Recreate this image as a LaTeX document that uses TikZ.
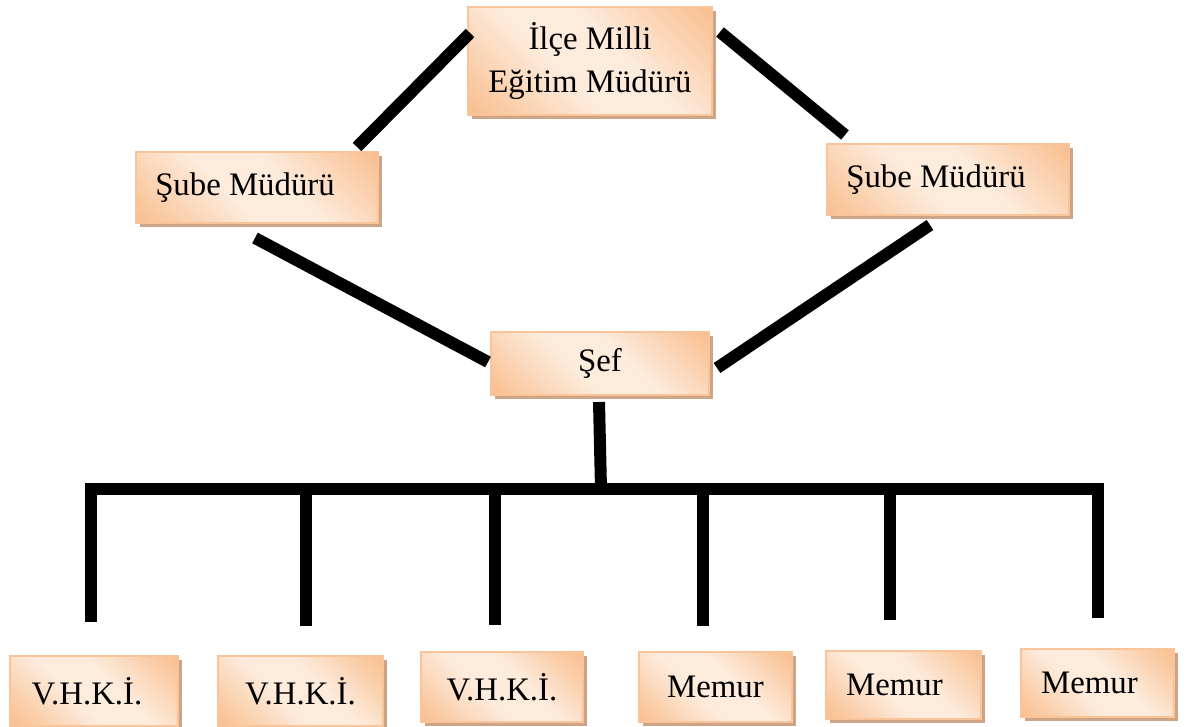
\documentclass[tikz,border=0pt]{standalone}
\usepackage{fontspec}
\setmainfont{Liberation Serif}
\usepackage{tikz}
\usetikzlibrary{calc,shadows,positioning}
\definecolor{dncam}{HTML}{F9BD8C}
\definecolor{dnkemik}{HTML}{FDEBDC}
\definecolor{dnkenar}{HTML}{FAC49A}
\definecolor{dngolge}{HTML}{CDA586}
\def\maukenar{dnkenar}
\def\maugolge{dngolge}
\pgfdeclarehorizontalshading{turuncu}{100bp}{color(0bp)=(dncam);color(14bp)=(dncam);color(42bp)=(dnkemik);color(58bp)=(dnkemik);color(86bp)=(dncam);color(100bp)=(dncam)}
\newcommand{\yazi}{\fontsize{16.4}{21.5}\selectfont}

\begin{document}
\begin{tikzpicture}[x=0.5pt,y=-0.5pt]
		\tikzstyle{kutu} = [draw=\maukenar,line width=0.9pt,shading=turuncu,shading angle=45,
		drop shadow={shadow xshift=2pt,shadow yshift=-2pt,fill=\maugolge,opacity=1},
		inner sep=0pt,font=\yazi]
		\tikzstyle{hat} = [line width=6pt,black]
		\useasboundingbox (0,0) rectangle (1193,727);
		% kutular
		\node[kutu,align=center,minimum width=122pt,minimum height=54pt] (ilce) at (590,61) {İlçe Milli\\Eğitim Müdürü};
		\node[kutu,minimum width=121pt,minimum height=35.5pt] (subeL) at (257,187.5) {Şube Müdürü\kern12pt\raisebox{5pt}{}};
		\node[kutu,minimum width=121pt,minimum height=35.5pt] (subeR) at (948,179.5) {Şube Müdürü\kern12pt\raisebox{5pt}{}};
		\node[kutu,minimum width=109pt,minimum height=31.5pt] (sef) at (600,363.5) {Şef};
		\node[kutu,minimum width=84pt,minimum height=35pt] (vhki1) at (94,691) {V.H.K.İ.\kern7pt};
		\node[kutu,minimum width=82.5pt,minimum height=35pt] (vhki2) at (300.5,691) {V.H.K.İ.};
		\node[kutu,minimum width=81pt,minimum height=35pt] (vhki3) at (502,687) {V.H.K.İ.};
		\node[kutu,minimum width=76.5pt,minimum height=35pt] (memur1) at (715.5,687) {Memur};
		\node[kutu,minimum width=77.5pt,minimum height=34pt] (memur2) at (903.5,685) {Memur\kern9pt};
		\node[kutu,minimum width=76.5pt,minimum height=34pt] (memur3) at (1097.5,683) {Memur\kern8pt};
		% baglantilar
		\coordinate (ilceL) at (470,33);  \coordinate (subeLu) at (357,147);
		\coordinate (ilceR) at (720,32);  \coordinate (subeRu) at (845,135);
		\coordinate (subeLa) at (255,238); \coordinate (sefL) at (488,362);
		\coordinate (subeRa) at (930,225); \coordinate (sefR) at (717,368);
		\coordinate (sefa) at (599,402);  \coordinate (bar) at (601,489);
		\coordinate (bar1) at (91,489);   \coordinate (bar6) at (1098,489);
		\draw[hat] (ilceL)--(subeLu);
		\draw[hat] (ilceR)--(subeRu);
		\draw[hat] (subeLa)--(sefL);
		\draw[hat] (subeRa)--(sefR);
		\draw[hat] (sefa)--(bar);
		\draw[hat] (91,622)--(bar1)--(bar6)--(1098,618);
		\draw[hat] (306,489)--(306,626);
		\draw[hat] (495,489)--(495,625);
		\draw[hat] (703,489)--(703,626);
		\draw[hat] (890,489)--(890,620);
	\end{tikzpicture}
\end{document}
